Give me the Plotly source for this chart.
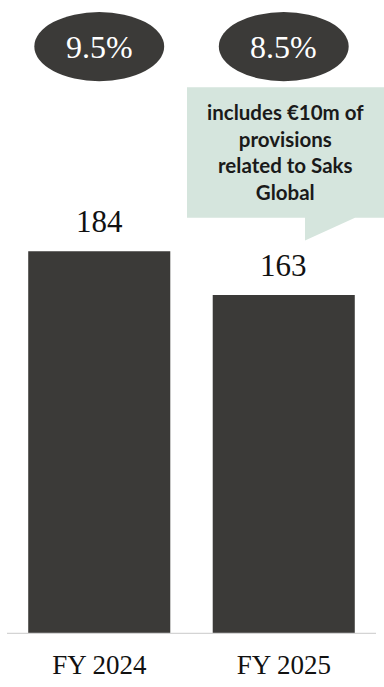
import plotly.graph_objects as go

categories = ["FY 2024", "FY 2025"]
values = [184, 163]
margins = ["9.5%", "8.5%"]
note_text = "<b>includes €10m of<br>provisions<br>related to Saks<br>Global</b>"

BAR = "#3b3a38"
BOX = "#d5e5dd"
SERIF = "Liberation Serif, DejaVu Serif, serif"
SANS = "Lato"

fig = go.Figure()
fig.add_trace(go.Bar(x=categories, y=values, marker=dict(color=BAR, line=dict(width=0)),
                     hoverinfo="skip"))

shapes = []
annotations = []
for i, (c, v, m) in enumerate(zip(categories, values, margins)):
    annotations.append(dict(x=c, y=v, xref="x", yref="y", text=str(v), showarrow=False,
                            yanchor="bottom", yshift=10,
                            font=dict(family=SERIF, size=31, color="#111111")))
    shapes.append(dict(type="circle", xref="x", yref="paper",
                       x0=i - 0.352, x1=i + 0.352, y0=0.886, y1=0.9968,
                       fillcolor=BAR, line=dict(width=0), layer="above"))
    annotations.append(dict(x=c, y=0.941, xref="x", yref="paper", text=m, showarrow=False,
                            yanchor="middle",
                            font=dict(family=SERIF, size=32, color="#ffffff")))

# callout box with tail
bx0, bx1, by0, by1 = 0.4878, 1.03, 0.6672, 0.8764
tx0, tx1, ty = 0.8076, 0.9431, 0.6307
path = (f"M {bx0},{by1} L {bx1},{by1} L {bx1},{by0} L {tx1},{by0} "
        f"L {tx0},{ty} L {tx0},{by0} L {bx0},{by0} Z")
shapes.append(dict(type="path", xref="paper", yref="paper", path=path,
                   fillcolor=BOX, line=dict(width=0), layer="above"))
annotations.append(dict(x=0.7545, y=0.772, xref="paper", yref="paper", text=note_text,
                        showarrow=False, align="center", xanchor="center", yanchor="middle",
                        font=dict(family=SANS, size=20.5, color="#1a1a1a")))

# baseline
shapes.append(dict(type="line", xref="paper", yref="y", x0=0, x1=1, y0=0, y1=0,
                   line=dict(color="#d4d4d4", width=2.5), layer="above"))

fig.update_layout(
    width=384, height=687,
    margin=dict(l=7, r=8, t=10, b=46),
    paper_bgcolor="white", plot_bgcolor="white",
    bargap=0.23, showlegend=False,
    shapes=shapes, annotations=annotations,
    xaxis=dict(showgrid=False, zeroline=False, showline=False, ticks="",
               tickfont=dict(family=SERIF, size=27, color="#111111"), ticklabelstandoff=12),
    yaxis=dict(range=[0, 300], visible=False, showgrid=False, zeroline=False),
)

fig.write_html("out.html")
